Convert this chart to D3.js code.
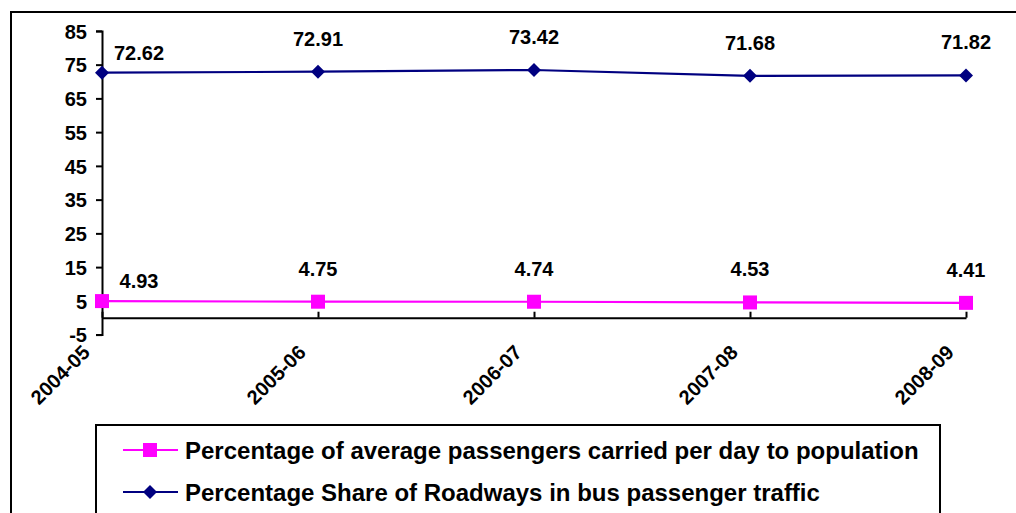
<!DOCTYPE html>
<html>
<head>
<meta charset="utf-8">
<script src="https://cdn.jsdelivr.net/npm/d3@7"></script>
<style>
  html, body { margin: 0; padding: 0; background: #fff; }
  svg { display: block; }
  text { font-family: "Liberation Sans", Arial, sans-serif; font-weight: bold; fill: #000; }
</style>
</head>
<body>
<svg id="chart" width="1016" height="513"></svg>
<script>
// Years on the category axis
const years = ["2004-05", "2005-06", "2006-07", "2007-08", "2008-09"];
// Percentage of average passengers carried per day to population
const passengersPct = [4.93, 4.75, 4.74, 4.53, 4.41];
// Percentage share of roadways in bus passenger traffic
const roadwaysShare = [72.62, 72.91, 73.42, 71.68, 71.82];
// Value axis ticks
const yTicks = [-5, 5, 15, 25, 35, 45, 55, 65, 75, 85];

const seriesNames = [
  "Percentage of average passengers carried per day to population",
  "Percentage Share of Roadways in bus passenger traffic"
];

const svg = d3.select("#chart");

// Outer chart frame
svg.append("rect")
  .attr("x", 11).attr("y", 12)
  .attr("width", 1030).attr("height", 530)
  .attr("fill", "none").attr("stroke", "#000").attr("stroke-width", 2);

const x = d3.scalePoint().domain(years).range([102, 966]);
const y = d3.scaleLinear().domain([-5, 85]).range([334.6, 30.9]);

// Value axis (plain hyphen for negatives)
const yAxis = d3.axisLeft(y).tickValues(yTicks).tickSize(6).tickPadding(9).tickFormat(d => String(d));
const gy = svg.append("g").attr("transform", "translate(102,0)").call(yAxis);
gy.attr("font-size", null).attr("font-family", null);
gy.select(".domain").attr("stroke", "#000").attr("stroke-width", 2);
gy.selectAll(".tick line").attr("stroke", "#000").attr("stroke-width", 2);
gy.selectAll(".tick text").attr("font-size", 20).attr("dy", "0.36em");

// Category axis at zero with inward ticks
const xAxis = d3.axisBottom(x).tickSize(-6).tickSizeOuter(0).tickFormat("");
const gx = svg.append("g").attr("transform", `translate(0,${y(0)})`).call(xAxis);
gx.select(".domain").attr("stroke", "#000").attr("stroke-width", 2);
gx.selectAll(".tick line").attr("stroke", "#000").attr("stroke-width", 2);

// Rotated category labels
svg.append("g").selectAll("text")
  .data(years).join("text")
  .attr("transform", d => `translate(${x(d) - 11},${y(0) + 36}) rotate(-45)`)
  .attr("text-anchor", "end")
  .attr("font-size", 20)
  .text(d => d);

const line = d3.line().x((d, i) => x(years[i])).y(d => y(d));

// Roadways share series (navy, diamonds)
svg.append("path").datum(roadwaysShare)
  .attr("d", line).attr("fill", "none")
  .attr("stroke", "#000080").attr("stroke-width", 2.2);
svg.append("g").selectAll("path")
  .data(roadwaysShare).join("path")
  .attr("transform", (d, i) => `translate(${x(years[i])},${y(d)})`)
  .attr("d", "M0,-7L7,0L0,7L-7,0Z")
  .attr("fill", "#000080");

// Passengers series (magenta, squares)
svg.append("path").datum(passengersPct)
  .attr("d", line).attr("fill", "none")
  .attr("stroke", "#FF00FF").attr("stroke-width", 2.2);
svg.append("g").selectAll("rect")
  .data(passengersPct).join("rect")
  .attr("x", (d, i) => x(years[i]) - 7)
  .attr("y", d => y(d) - 7)
  .attr("width", 14).attr("height", 14)
  .attr("fill", "#FF00FF");

// Data labels; the first one sits right of the axis line
function addLabels(values) {
  svg.append("g").selectAll("text")
    .data(values).join("text")
    .attr("x", (d, i) => x(years[i]) + (i === 0 ? 37 : 0))
    .attr("y", (d, i) => y(d) - (i === 0 ? 13 : 26))
    .attr("text-anchor", "middle")
    .attr("font-size", 20)
    .text(d => d.toFixed(2));
}
addLabels(roadwaysShare);
addLabels(passengersPct);

// Legend
const legend = svg.append("g");
legend.append("rect")
  .attr("x", 96).attr("y", 425)
  .attr("width", 844).attr("height", 120)
  .attr("fill", "#fff").attr("stroke", "#000").attr("stroke-width", 2);

const legendItems = [
  { name: seriesNames[0], color: "#FF00FF", shape: "square", cy: 450 },
  { name: seriesNames[1], color: "#000080", shape: "diamond", cy: 492 }
];
legendItems.forEach(it => {
  legend.append("line")
    .attr("x1", 123).attr("x2", 178).attr("y1", it.cy).attr("y2", it.cy)
    .attr("stroke", it.color).attr("stroke-width", 2.2);
  if (it.shape === "square") {
    legend.append("rect").attr("x", 143).attr("y", it.cy - 7)
      .attr("width", 14).attr("height", 14).attr("fill", it.color);
  } else {
    legend.append("path").attr("transform", `translate(150,${it.cy})`)
      .attr("d", "M0,-7L7,0L0,7L-7,0Z").attr("fill", it.color);
  }
  legend.append("text")
    .attr("x", 185).attr("y", it.cy + 8.5)
    .attr("font-size", 24)
    .text(it.name);
});
</script>
</body>
</html>
